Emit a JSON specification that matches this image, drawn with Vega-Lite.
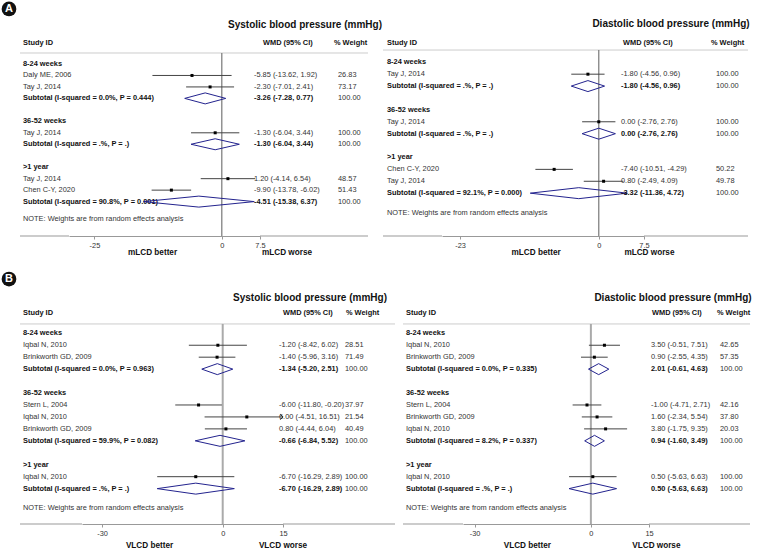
{
"$schema": "https://vega.github.io/schema/vega-lite/v6.json",
"background": "white",
"padding": {"left": 1, "top": 0, "right": 0, "bottom": 0},
"datasets": {
 "sbpA": [
  {"row": 1, "label": "8-24 weeks", "kind": "group"},
  {"row": 2, "label": "Daly ME, 2006", "kind": "study", "est": -5.85, "lo": -13.62, "hi": 1.92, "w": 26.83},
  {"row": 3, "label": "Tay J, 2014", "kind": "study", "est": -2.30, "lo": -7.01, "hi": 2.41, "w": 73.17},
  {"row": 4, "label": "Subtotal  (I-squared = 0.0%, P = 0.444)", "kind": "subtotal", "est": -3.26, "lo": -7.28, "hi": 0.77, "w": 100},
  {"row": 6, "label": "36-52 weeks", "kind": "group"},
  {"row": 7, "label": "Tay J, 2014", "kind": "study", "est": -1.30, "lo": -6.04, "hi": 3.44, "w": 100},
  {"row": 8, "label": "Subtotal  (I-squared = .%, P = .)", "kind": "subtotal", "est": -1.30, "lo": -6.04, "hi": 3.44, "w": 100},
  {"row": 10, "label": ">1 year", "kind": "group"},
  {"row": 11, "label": "Tay J, 2014", "kind": "study", "est": 1.20, "lo": -4.14, "hi": 6.54, "w": 48.57},
  {"row": 12, "label": "Chen C-Y, 2020", "kind": "study", "est": -9.90, "lo": -13.78, "hi": -6.02, "w": 51.43},
  {"row": 13, "label": "Subtotal  (I-squared = 90.8%, P = 0.001)", "kind": "subtotal", "est": -4.51, "lo": -15.38, "hi": 6.37, "w": 100}
 ],
 "dbpA": [
  {"row": 1, "label": "8-24 weeks", "kind": "group"},
  {"row": 2, "label": "Tay J, 2014", "kind": "study", "est": -1.80, "lo": -4.56, "hi": 0.96, "w": 100},
  {"row": 3, "label": "Subtotal  (I-squared = .%, P = .)", "kind": "subtotal", "est": -1.80, "lo": -4.56, "hi": 0.96, "w": 100},
  {"row": 5, "label": "36-52 weeks", "kind": "group"},
  {"row": 6, "label": "Tay J, 2014", "kind": "study", "est": 0.00, "lo": -2.76, "hi": 2.76, "w": 100},
  {"row": 7, "label": "Subtotal  (I-squared = .%, P = .)", "kind": "subtotal", "est": 0.00, "lo": -2.76, "hi": 2.76, "w": 100},
  {"row": 9, "label": ">1 year", "kind": "group"},
  {"row": 10, "label": "Chen C-Y, 2020", "kind": "study", "est": -7.40, "lo": -10.51, "hi": -4.29, "w": 50.22},
  {"row": 11, "label": "Tay J, 2014", "kind": "study", "est": 0.80, "lo": -2.49, "hi": 4.09, "w": 49.78},
  {"row": 12, "label": "Subtotal  (I-squared = 92.1%, P = 0.000)", "kind": "subtotal", "est": -3.32, "lo": -11.36, "hi": 4.72, "w": 100}
 ],
 "sbpB": [
  {"row": 1, "label": "8-24 weeks", "kind": "group"},
  {"row": 2, "label": "Iqbal N, 2010", "kind": "study", "est": -1.20, "lo": -8.42, "hi": 6.02, "w": 28.51},
  {"row": 3, "label": "Brinkworth GD, 2009", "kind": "study", "est": -1.40, "lo": -5.96, "hi": 3.16, "w": 71.49},
  {"row": 4, "label": "Subtotal  (I-squared = 0.0%, P = 0.963)", "kind": "subtotal", "est": -1.34, "lo": -5.20, "hi": 2.51, "w": 100},
  {"row": 6, "label": "36-52 weeks", "kind": "group"},
  {"row": 7, "label": "Stern L, 2004", "kind": "study", "est": -6.00, "lo": -11.80, "hi": -0.20, "w": 37.97},
  {"row": 8, "label": "Iqbal N, 2010", "kind": "study", "est": 6.00, "lo": -4.51, "hi": 16.51, "w": 21.54},
  {"row": 9, "label": "Brinkworth GD, 2009", "kind": "study", "est": 0.80, "lo": -4.44, "hi": 6.04, "w": 40.49},
  {"row": 10, "label": "Subtotal  (I-squared = 59.9%, P = 0.082)", "kind": "subtotal", "est": -0.66, "lo": -6.84, "hi": 5.52, "w": 100},
  {"row": 12, "label": ">1 year", "kind": "group"},
  {"row": 13, "label": "Iqbal N, 2010", "kind": "study", "est": -6.70, "lo": -16.29, "hi": 2.89, "w": 100},
  {"row": 14, "label": "Subtotal  (I-squared = .%, P = .)", "kind": "subtotal", "est": -6.70, "lo": -16.29, "hi": 2.89, "w": 100}
 ],
 "dbpB": [
  {"row": 1, "label": "8-24 weeks", "kind": "group"},
  {"row": 2, "label": "Iqbal N, 2010", "kind": "study", "est": 3.50, "lo": -0.51, "hi": 7.51, "w": 42.65},
  {"row": 3, "label": "Brinkworth GD, 2009", "kind": "study", "est": 0.90, "lo": -2.55, "hi": 4.35, "w": 57.35},
  {"row": 4, "label": "Subtotal  (I-squared = 0.0%, P = 0.335)", "kind": "subtotal", "est": 2.01, "lo": -0.61, "hi": 4.63, "w": 100},
  {"row": 6, "label": "36-52 weeks", "kind": "group"},
  {"row": 7, "label": "Stern L, 2004", "kind": "study", "est": -1.00, "lo": -4.71, "hi": 2.71, "w": 42.16},
  {"row": 8, "label": "Brinkworth GD, 2009", "kind": "study", "est": 1.60, "lo": -2.34, "hi": 5.54, "w": 37.80},
  {"row": 9, "label": "Iqbal N, 2010", "kind": "study", "est": 3.80, "lo": -1.75, "hi": 9.35, "w": 20.03},
  {"row": 10, "label": "Subtotal  (I-squared = 8.2%, P = 0.337)", "kind": "subtotal", "est": 0.94, "lo": -1.60, "hi": 3.49, "w": 100},
  {"row": 12, "label": ">1 year", "kind": "group"},
  {"row": 13, "label": "Iqbal N, 2010", "kind": "study", "est": 0.50, "lo": -5.63, "hi": 6.63, "w": 100},
  {"row": 14, "label": "Subtotal  (I-squared = .%, P = .)", "kind": "subtotal", "est": 0.50, "lo": -5.63, "hi": 6.63, "w": 100}
 ]
},
"vconcat": [
{"hconcat": [
 {"width": 49, "height": 236, "data": {"name": "sbpA"}, "layer": [
  {"transform": [{"filter": "datum.kind == 'study'"}], "mark": {"type": "text", "align": "left", "dx": 3}, "encoding": {"x": {"datum": 0, "type": "quantitative", "scale": {"domain": [0, 1]}, "axis": null}, "y": {"field": "row", "type": "quantitative", "scale": {"domain": [-4.581, 16], "reverse": true, "nice": false, "zero": false}, "axis": null}, "text": {"field": "label"}}},
  {"transform": [{"filter": "datum.kind != 'study'"}], "mark": {"type": "text", "align": "left", "dx": 3, "fontWeight": "bold", "color": "#111"}, "encoding": {"x": {"datum": 0, "type": "quantitative", "axis": null}, "y": {"field": "row", "type": "quantitative", "axis": null}, "text": {"field": "label"}}},
  {"data": {"values": [{"t": "Study ID"}]}, "mark": {"type": "text", "align": "left", "dx": 3, "fontWeight": "bold", "color": "#111"}, "encoding": {"x": {"datum": 0, "type": "quantitative", "axis": null}, "y": {"datum": -0.83, "type": "quantitative", "axis": null}, "text": {"field": "t"}}},
  {"data": {"values": [{"t": "NOTE: Weights are from random effects analysis"}]}, "mark": {"type": "text", "align": "left", "dx": 3}, "encoding": {"x": {"datum": 0, "type": "quantitative", "axis": null}, "y": {"datum": 14.52, "type": "quantitative", "axis": null}, "text": {"field": "t"}}},
  {"data": {"values": [{}]}, "mark": {"type": "rule", "color": "#cccccc"}, "encoding": {"y": {"datum": 0.04, "type": "quantitative", "axis": null}}},
  {"data": {"values": [{}]}, "mark": {"type": "rule", "color": "#999999"}, "encoding": {"y": {"datum": 16, "type": "quantitative", "axis": null}}},
  {"data": {"values": [{"t": "A"}]}, "mark": {"type": "point", "shape": "circle", "filled": true, "color": "#111", "opacity": 1, "size": 216, "xOffset": -11}, "encoding": {"x": {"datum": 0, "type": "quantitative", "axis": null}, "y": {"datum": -3.8, "type": "quantitative", "axis": null}}},
  {"data": {"values": [{"t": "A"}]}, "mark": {"type": "text", "align": "center", "dx": -11, "fontWeight": "bold", "fontSize": 11, "color": "#ffffff"}, "encoding": {"x": {"datum": 0, "type": "quantitative", "axis": null}, "y": {"datum": -3.8, "type": "quantitative", "axis": null}, "text": {"field": "t"}}}
 ]},
 {"width": 191, "height": 236, "data": {"name": "sbpA"}, "layer": [
  {"data": {"values": [{}]}, "mark": {"type": "rule", "color": "#cccccc"}, "encoding": {"y": {"datum": 0.04, "type": "quantitative", "scale": {"domain": [-4.581, 16], "reverse": true, "nice": false, "zero": false}, "axis": null}}},
  {"data": {"values": [{}]}, "mark": {"type": "rule", "color": "#777777", "strokeWidth": 1.2}, "encoding": {"x": {"datum": 0, "type": "quantitative", "scale": {"domain": [-30, 7.5], "nice": false, "zero": false}, "axis": {"values": [-25, 0, 7.5], "labelExpr": "'' + datum.value", "title": null, "grid": false, "domainColor": "#999999", "tickColor": "#999999", "tickSize": 3, "labelFontSize": 7.4, "labelColor": "#333333", "labelPadding": 2, "labelFlush": false, "labelOverlap": false}}, "y": {"datum": 0.04, "type": "quantitative", "axis": null}, "y2": {"datum": 16}}},
  {"transform": [{"filter": "datum.kind == 'study'"}], "mark": {"type": "rule", "color": "#444444"}, "encoding": {"x": {"field": "lo", "type": "quantitative"}, "x2": {"field": "hi"}, "y": {"field": "row", "type": "quantitative", "axis": null}}},
  {"transform": [{"filter": "datum.kind == 'study'"}], "mark": {"type": "point", "shape": "square", "filled": true, "color": "#000000", "opacity": 1, "size": 9}, "encoding": {"x": {"field": "est", "type": "quantitative"}, "y": {"field": "row", "type": "quantitative", "axis": null}}},
  {"transform": [{"filter": "datum.kind == 'subtotal'"}], "mark": {"type": "rule", "color": "#23238e", "y2Offset": -5.5}, "encoding": {"x": {"field": "lo", "type": "quantitative"}, "x2": {"field": "est"}, "y": {"field": "row", "type": "quantitative", "axis": null}, "y2": {"field": "row"}}},
  {"transform": [{"filter": "datum.kind == 'subtotal'"}], "mark": {"type": "rule", "color": "#23238e", "yOffset": -5.5}, "encoding": {"x": {"field": "est", "type": "quantitative"}, "x2": {"field": "hi"}, "y": {"field": "row", "type": "quantitative", "axis": null}, "y2": {"field": "row"}}},
  {"transform": [{"filter": "datum.kind == 'subtotal'"}], "mark": {"type": "rule", "color": "#23238e", "y2Offset": 5.5}, "encoding": {"x": {"field": "hi", "type": "quantitative"}, "x2": {"field": "est"}, "y": {"field": "row", "type": "quantitative", "axis": null}, "y2": {"field": "row"}}},
  {"transform": [{"filter": "datum.kind == 'subtotal'"}], "mark": {"type": "rule", "color": "#23238e", "yOffset": 5.5}, "encoding": {"x": {"field": "est", "type": "quantitative"}, "x2": {"field": "lo"}, "y": {"field": "row", "type": "quantitative", "axis": null}, "y2": {"field": "row"}}},
  {"data": {"values": [{"t": "mLCD better"}]}, "mark": {"type": "text", "align": "center", "fontWeight": "bold", "fontSize": 8.2, "color": "#111"}, "encoding": {"x": {"datum": -13.6, "type": "quantitative"}, "y": {"datum": 17.48, "type": "quantitative", "axis": null}, "text": {"field": "t"}}},
  {"data": {"values": [{"t": "mLCD worse"}]}, "mark": {"type": "text", "align": "center", "fontWeight": "bold", "fontSize": 8.2, "color": "#111"}, "encoding": {"x": {"datum": 12.8, "type": "quantitative"}, "y": {"datum": 17.48, "type": "quantitative", "axis": null}, "text": {"field": "t"}}}
 ]},
 {"width": 74, "height": 236, "data": {"name": "sbpA"}, "layer": [
  {"transform": [{"filter": "datum.kind == 'study'"}, {"calculate": "replace(format(datum.est, '.2f'), '−', '-') + ' (' + replace(format(datum.lo, '.2f'), '−', '-') + ', ' + replace(format(datum.hi, '.2f'), '−', '-') + ')'", "as": "ci"}], "mark": {"type": "text", "align": "left", "dx": -6}, "encoding": {"x": {"datum": 0, "type": "quantitative", "scale": {"domain": [0, 1]}, "axis": null}, "y": {"field": "row", "type": "quantitative", "scale": {"domain": [-4.581, 16], "reverse": true, "nice": false, "zero": false}, "axis": null}, "text": {"field": "ci"}}},
  {"transform": [{"filter": "datum.kind == 'subtotal'"}, {"calculate": "replace(format(datum.est, '.2f'), '−', '-') + ' (' + replace(format(datum.lo, '.2f'), '−', '-') + ', ' + replace(format(datum.hi, '.2f'), '−', '-') + ')'", "as": "ci"}], "mark": {"type": "text", "align": "left", "dx": -6, "fontWeight": "bold", "color": "#111"}, "encoding": {"x": {"datum": 0, "type": "quantitative", "axis": null}, "y": {"field": "row", "type": "quantitative", "axis": null}, "text": {"field": "ci"}}},
  {"data": {"values": [{"t": "WMD (95% CI)"}]}, "mark": {"type": "text", "align": "left", "dx": 3, "fontWeight": "bold", "color": "#111"}, "encoding": {"x": {"datum": 0, "type": "quantitative", "axis": null}, "y": {"datum": -0.83, "type": "quantitative", "axis": null}, "text": {"field": "t"}}},
  {"data": {"values": [{"t": "Systolic blood pressure (mmHg)"}]}, "mark": {"type": "text", "align": "center", "dx": 45, "fontWeight": "bold", "fontSize": 10, "color": "#111"}, "encoding": {"x": {"datum": 0, "type": "quantitative", "axis": null}, "y": {"datum": -2.4, "type": "quantitative", "axis": null}, "text": {"field": "t"}}},
  {"data": {"values": [{}]}, "mark": {"type": "rule", "color": "#cccccc"}, "encoding": {"y": {"datum": 0.04, "type": "quantitative", "axis": null}}},
  {"data": {"values": [{}]}, "mark": {"type": "rule", "color": "#999999"}, "encoding": {"y": {"datum": 16, "type": "quantitative", "axis": null}}}
 ]},
 {"width": 34, "height": 236, "data": {"name": "sbpA"}, "layer": [
  {"transform": [{"filter": "datum.kind != 'group'"}, {"calculate": "format(datum.w, '.2f')", "as": "wt"}], "mark": {"type": "text", "align": "left", "dx": 4}, "encoding": {"x": {"datum": 0, "type": "quantitative", "scale": {"domain": [0, 1]}, "axis": null}, "y": {"field": "row", "type": "quantitative", "scale": {"domain": [-4.581, 16], "reverse": true, "nice": false, "zero": false}, "axis": null}, "text": {"field": "wt"}}},
  {"data": {"values": [{"t": "% Weight"}]}, "mark": {"type": "text", "align": "left", "dx": 0, "fontWeight": "bold", "color": "#111"}, "encoding": {"x": {"datum": 0, "type": "quantitative", "axis": null}, "y": {"datum": -0.83, "type": "quantitative", "axis": null}, "text": {"field": "t"}}},
  {"data": {"values": [{}]}, "mark": {"type": "rule", "color": "#cccccc"}, "encoding": {"y": {"datum": 0.04, "type": "quantitative", "axis": null}}},
  {"data": {"values": [{}]}, "mark": {"type": "rule", "color": "#999999"}, "encoding": {"y": {"datum": 16, "type": "quantitative", "axis": null}}}
 ]},
 {"width": 15, "height": 236, "data": {"values": [{}]}, "mark": {"type": "text"}, "encoding": {"text": {"value": ""}}},
 {"width": 59, "height": 236, "data": {"name": "dbpA"}, "layer": [
  {"transform": [{"filter": "datum.kind == 'study'"}], "mark": {"type": "text", "align": "left", "dx": 4}, "encoding": {"x": {"datum": 0, "type": "quantitative", "scale": {"domain": [0, 1]}, "axis": null}, "y": {"field": "row", "type": "quantitative", "scale": {"domain": [-4.235, 15.6], "reverse": true, "nice": false, "zero": false}, "axis": null}, "text": {"field": "label"}}},
  {"transform": [{"filter": "datum.kind != 'study'"}], "mark": {"type": "text", "align": "left", "dx": 4, "fontWeight": "bold", "color": "#111"}, "encoding": {"x": {"datum": 0, "type": "quantitative", "axis": null}, "y": {"field": "row", "type": "quantitative", "axis": null}, "text": {"field": "label"}}},
  {"data": {"values": [{"t": "Study ID"}]}, "mark": {"type": "text", "align": "left", "dx": 4, "fontWeight": "bold", "color": "#111"}, "encoding": {"x": {"datum": 0, "type": "quantitative", "axis": null}, "y": {"datum": -0.65, "type": "quantitative", "axis": null}, "text": {"field": "t"}}},
  {"data": {"values": [{"t": "NOTE: Weights are from random effects analysis"}]}, "mark": {"type": "text", "align": "left", "dx": 4}, "encoding": {"x": {"datum": 0, "type": "quantitative", "axis": null}, "y": {"datum": 13.69, "type": "quantitative", "axis": null}, "text": {"field": "t"}}},
  {"data": {"values": [{}]}, "mark": {"type": "rule", "color": "#cccccc"}, "encoding": {"y": {"datum": -0.03, "type": "quantitative", "axis": null}}},
  {"data": {"values": [{}]}, "mark": {"type": "rule", "color": "#999999"}, "encoding": {"y": {"datum": 15.6, "type": "quantitative", "axis": null}}}
 ]},
 {"width": 202, "height": 236, "data": {"name": "dbpA"}, "layer": [
  {"data": {"values": [{}]}, "mark": {"type": "rule", "color": "#cccccc"}, "encoding": {"y": {"datum": -0.03, "type": "quantitative", "scale": {"domain": [-4.235, 15.6], "reverse": true, "nice": false, "zero": false}, "axis": null}}},
  {"data": {"values": [{}]}, "mark": {"type": "rule", "color": "#777777", "strokeWidth": 1.2}, "encoding": {"x": {"datum": 0, "type": "quantitative", "scale": {"domain": [-26, 7.5], "nice": false, "zero": false}, "axis": {"values": [-23, 0, 7.5], "labelExpr": "'' + datum.value", "title": null, "grid": false, "domainColor": "#999999", "tickColor": "#999999", "tickSize": 3, "labelFontSize": 7.4, "labelColor": "#333333", "labelPadding": 2, "labelFlush": false, "labelOverlap": false}}, "y": {"datum": -0.03, "type": "quantitative", "axis": null}, "y2": {"datum": 15.6}}},
  {"transform": [{"filter": "datum.kind == 'study'"}], "mark": {"type": "rule", "color": "#444444"}, "encoding": {"x": {"field": "lo", "type": "quantitative"}, "x2": {"field": "hi"}, "y": {"field": "row", "type": "quantitative", "axis": null}}},
  {"transform": [{"filter": "datum.kind == 'study'"}], "mark": {"type": "point", "shape": "square", "filled": true, "color": "#000000", "opacity": 1, "size": 9}, "encoding": {"x": {"field": "est", "type": "quantitative"}, "y": {"field": "row", "type": "quantitative", "axis": null}}},
  {"transform": [{"filter": "datum.kind == 'subtotal'"}], "mark": {"type": "rule", "color": "#23238e", "y2Offset": -5.5}, "encoding": {"x": {"field": "lo", "type": "quantitative"}, "x2": {"field": "est"}, "y": {"field": "row", "type": "quantitative", "axis": null}, "y2": {"field": "row"}}},
  {"transform": [{"filter": "datum.kind == 'subtotal'"}], "mark": {"type": "rule", "color": "#23238e", "yOffset": -5.5}, "encoding": {"x": {"field": "est", "type": "quantitative"}, "x2": {"field": "hi"}, "y": {"field": "row", "type": "quantitative", "axis": null}, "y2": {"field": "row"}}},
  {"transform": [{"filter": "datum.kind == 'subtotal'"}], "mark": {"type": "rule", "color": "#23238e", "y2Offset": 5.5}, "encoding": {"x": {"field": "hi", "type": "quantitative"}, "x2": {"field": "est"}, "y": {"field": "row", "type": "quantitative", "axis": null}, "y2": {"field": "row"}}},
  {"transform": [{"filter": "datum.kind == 'subtotal'"}], "mark": {"type": "rule", "color": "#23238e", "yOffset": 5.5}, "encoding": {"x": {"field": "est", "type": "quantitative"}, "x2": {"field": "lo"}, "y": {"field": "row", "type": "quantitative", "axis": null}, "y2": {"field": "row"}}},
  {"data": {"values": [{"t": "mLCD better"}]}, "mark": {"type": "text", "align": "center", "fontWeight": "bold", "fontSize": 8.2, "color": "#111"}, "encoding": {"x": {"datum": -10.4, "type": "quantitative"}, "y": {"datum": 17.03, "type": "quantitative", "axis": null}, "text": {"field": "t"}}},
  {"data": {"values": [{"t": "mLCD worse"}]}, "mark": {"type": "text", "align": "center", "fontWeight": "bold", "fontSize": 8.2, "color": "#111"}, "encoding": {"x": {"datum": 8.4, "type": "quantitative"}, "y": {"datum": 17.03, "type": "quantitative", "axis": null}, "text": {"field": "t"}}}
 ]},
 {"width": 67, "height": 236, "data": {"name": "dbpA"}, "layer": [
  {"transform": [{"filter": "datum.kind == 'study'"}, {"calculate": "replace(format(datum.est, '.2f'), '−', '-') + ' (' + replace(format(datum.lo, '.2f'), '−', '-') + ', ' + replace(format(datum.hi, '.2f'), '−', '-') + ')'", "as": "ci"}], "mark": {"type": "text", "align": "left", "dx": -23}, "encoding": {"x": {"datum": 0, "type": "quantitative", "scale": {"domain": [0, 1]}, "axis": null}, "y": {"field": "row", "type": "quantitative", "scale": {"domain": [-4.235, 15.6], "reverse": true, "nice": false, "zero": false}, "axis": null}, "text": {"field": "ci"}}},
  {"transform": [{"filter": "datum.kind == 'subtotal'"}, {"calculate": "replace(format(datum.est, '.2f'), '−', '-') + ' (' + replace(format(datum.lo, '.2f'), '−', '-') + ', ' + replace(format(datum.hi, '.2f'), '−', '-') + ')'", "as": "ci"}], "mark": {"type": "text", "align": "left", "dx": -23, "fontWeight": "bold", "color": "#111"}, "encoding": {"x": {"datum": 0, "type": "quantitative", "axis": null}, "y": {"field": "row", "type": "quantitative", "axis": null}, "text": {"field": "ci"}}},
  {"data": {"values": [{"t": "WMD (95% CI)"}]}, "mark": {"type": "text", "align": "left", "dx": -21, "fontWeight": "bold", "color": "#111"}, "encoding": {"x": {"datum": 0, "type": "quantitative", "axis": null}, "y": {"datum": -0.65, "type": "quantitative", "axis": null}, "text": {"field": "t"}}},
  {"data": {"values": [{"t": "Diastolic blood pressure (mmHg)"}]}, "mark": {"type": "text", "align": "center", "dx": 27, "fontWeight": "bold", "fontSize": 10, "color": "#111"}, "encoding": {"x": {"datum": 0, "type": "quantitative", "axis": null}, "y": {"datum": -2.22, "type": "quantitative", "axis": null}, "text": {"field": "t"}}},
  {"data": {"values": [{}]}, "mark": {"type": "rule", "color": "#cccccc"}, "encoding": {"y": {"datum": -0.03, "type": "quantitative", "axis": null}}},
  {"data": {"values": [{}]}, "mark": {"type": "rule", "color": "#999999"}, "encoding": {"y": {"datum": 15.6, "type": "quantitative", "axis": null}}}
 ]},
 {"width": 37, "height": 236, "data": {"name": "dbpA"}, "layer": [
  {"transform": [{"filter": "datum.kind != 'group'"}, {"calculate": "format(datum.w, '.2f')", "as": "wt"}], "mark": {"type": "text", "align": "left", "dx": 5}, "encoding": {"x": {"datum": 0, "type": "quantitative", "scale": {"domain": [0, 1]}, "axis": null}, "y": {"field": "row", "type": "quantitative", "scale": {"domain": [-4.235, 15.6], "reverse": true, "nice": false, "zero": false}, "axis": null}, "text": {"field": "wt"}}},
  {"data": {"values": [{"t": "% Weight"}]}, "mark": {"type": "text", "align": "left", "dx": 0, "fontWeight": "bold", "color": "#111"}, "encoding": {"x": {"datum": 0, "type": "quantitative", "axis": null}, "y": {"datum": -0.65, "type": "quantitative", "axis": null}, "text": {"field": "t"}}},
  {"data": {"values": [{}]}, "mark": {"type": "rule", "color": "#cccccc"}, "encoding": {"y": {"datum": -0.03, "type": "quantitative", "axis": null}}},
  {"data": {"values": [{}]}, "mark": {"type": "rule", "color": "#999999"}, "encoding": {"y": {"datum": 15.6, "type": "quantitative", "axis": null}}}
 ]}
], "spacing": 0, "bounds": "flush", "resolve": {"scale": {"x": "independent", "y": "independent"}}},
{"hconcat": [
 {"width": 62, "height": 255, "data": {"name": "sbpB"}, "layer": [
  {"transform": [{"filter": "datum.kind == 'study'"}], "mark": {"type": "text", "align": "left", "dx": 3}, "encoding": {"x": {"datum": 0, "type": "quantitative", "scale": {"domain": [0, 1]}, "axis": null}, "y": {"field": "row", "type": "quantitative", "scale": {"domain": [-4.38, 16.96], "reverse": true, "nice": false, "zero": false}, "axis": null}, "text": {"field": "label"}}},
  {"transform": [{"filter": "datum.kind != 'study'"}], "mark": {"type": "text", "align": "left", "dx": 3, "fontWeight": "bold", "color": "#111"}, "encoding": {"x": {"datum": 0, "type": "quantitative", "axis": null}, "y": {"field": "row", "type": "quantitative", "axis": null}, "text": {"field": "label"}}},
  {"data": {"values": [{"t": "Study ID"}]}, "mark": {"type": "text", "align": "left", "dx": 3, "fontWeight": "bold", "color": "#111"}, "encoding": {"x": {"datum": 0, "type": "quantitative", "axis": null}, "y": {"datum": -0.72, "type": "quantitative", "axis": null}, "text": {"field": "t"}}},
  {"data": {"values": [{"t": "NOTE: Weights are from random effects analysis"}]}, "mark": {"type": "text", "align": "left", "dx": 3}, "encoding": {"x": {"datum": 0, "type": "quantitative", "axis": null}, "y": {"datum": 15.6, "type": "quantitative", "axis": null}, "text": {"field": "t"}}},
  {"data": {"values": [{}]}, "mark": {"type": "rule", "color": "#cccccc"}, "encoding": {"y": {"datum": 0.22, "type": "quantitative", "axis": null}}},
  {"data": {"values": [{}]}, "mark": {"type": "rule", "color": "#999999"}, "encoding": {"y": {"datum": 16.96, "type": "quantitative", "axis": null}}},
  {"data": {"values": [{"t": "B"}]}, "mark": {"type": "point", "shape": "circle", "filled": true, "color": "#111", "opacity": 1, "size": 216, "xOffset": -11}, "encoding": {"x": {"datum": 0, "type": "quantitative", "axis": null}, "y": {"datum": -3.54, "type": "quantitative", "axis": null}}},
  {"data": {"values": [{"t": "B"}]}, "mark": {"type": "text", "align": "center", "dx": -11, "fontWeight": "bold", "fontSize": 11, "color": "#ffffff"}, "encoding": {"x": {"datum": 0, "type": "quantitative", "axis": null}, "y": {"datum": -3.54, "type": "quantitative", "axis": null}, "text": {"field": "t"}}}
 ]},
 {"width": 201, "height": 255, "data": {"name": "sbpB"}, "layer": [
  {"data": {"values": [{}]}, "mark": {"type": "rule", "color": "#cccccc"}, "encoding": {"y": {"datum": 0.22, "type": "quantitative", "scale": {"domain": [-4.38, 16.96], "reverse": true, "nice": false, "zero": false}, "axis": null}}},
  {"data": {"values": [{}]}, "mark": {"type": "rule", "color": "#aaaaaa", "strokeWidth": 2}, "encoding": {"x": {"datum": 0, "type": "quantitative", "scale": {"domain": [-35, 15], "nice": false, "zero": false, "clamp": true}, "axis": {"values": [-30, 0, 15], "labelExpr": "'' + datum.value", "title": null, "grid": false, "domainColor": "#999999", "tickColor": "#999999", "tickSize": 3, "labelFontSize": 7.4, "labelColor": "#333333", "labelPadding": 2, "labelFlush": false, "labelOverlap": false}}, "y": {"datum": 0.22, "type": "quantitative", "axis": null}, "y2": {"datum": 16.96}}},
  {"transform": [{"filter": "datum.kind == 'study'"}], "mark": {"type": "rule", "color": "#444444"}, "encoding": {"x": {"field": "lo", "type": "quantitative"}, "x2": {"field": "hi"}, "y": {"field": "row", "type": "quantitative", "axis": null}}},
  {"transform": [{"filter": "datum.kind == 'study'"}], "mark": {"type": "point", "shape": "square", "filled": true, "color": "#000000", "opacity": 1, "size": 9}, "encoding": {"x": {"field": "est", "type": "quantitative"}, "y": {"field": "row", "type": "quantitative", "axis": null}}},
  {"transform": [{"filter": "datum.kind == 'study' && datum.hi > 15"}], "mark": {"type": "point", "shape": "M-1,-1L0,0L-1,1", "filled": false, "color": "#222222", "opacity": 1, "size": 30, "strokeWidth": 1}, "encoding": {"x": {"field": "hi", "type": "quantitative"}, "y": {"field": "row", "type": "quantitative", "axis": null}}},
  {"transform": [{"filter": "datum.kind == 'subtotal'"}], "mark": {"type": "rule", "color": "#23238e", "y2Offset": -5.5}, "encoding": {"x": {"field": "lo", "type": "quantitative"}, "x2": {"field": "est"}, "y": {"field": "row", "type": "quantitative", "axis": null}, "y2": {"field": "row"}}},
  {"transform": [{"filter": "datum.kind == 'subtotal'"}], "mark": {"type": "rule", "color": "#23238e", "yOffset": -5.5}, "encoding": {"x": {"field": "est", "type": "quantitative"}, "x2": {"field": "hi"}, "y": {"field": "row", "type": "quantitative", "axis": null}, "y2": {"field": "row"}}},
  {"transform": [{"filter": "datum.kind == 'subtotal'"}], "mark": {"type": "rule", "color": "#23238e", "y2Offset": 5.5}, "encoding": {"x": {"field": "hi", "type": "quantitative"}, "x2": {"field": "est"}, "y": {"field": "row", "type": "quantitative", "axis": null}, "y2": {"field": "row"}}},
  {"transform": [{"filter": "datum.kind == 'subtotal'"}], "mark": {"type": "rule", "color": "#23238e", "yOffset": 5.5}, "encoding": {"x": {"field": "est", "type": "quantitative"}, "x2": {"field": "lo"}, "y": {"field": "row", "type": "quantitative", "axis": null}, "y2": {"field": "row"}}},
  {"data": {"values": [{"t": "VLCD better"}]}, "mark": {"type": "text", "align": "center", "fontWeight": "bold", "fontSize": 8.2, "color": "#111"}, "encoding": {"x": {"datum": -18.2, "type": "quantitative"}, "y": {"datum": 18.8, "type": "quantitative", "axis": null}, "text": {"field": "t"}}},
  {"data": {"values": [{"t": "VLCD worse"}]}, "mark": {"type": "text", "align": "center", "fontWeight": "bold", "fontSize": 8.2, "color": "#111"}, "encoding": {"x": {"datum": 15, "type": "quantitative"}, "y": {"datum": 18.8, "type": "quantitative", "axis": null}, "text": {"field": "t"}}}
 ]},
 {"width": 60, "height": 255, "data": {"name": "sbpB"}, "layer": [
  {"transform": [{"filter": "datum.kind == 'study'"}, {"calculate": "replace(format(datum.est, '.2f'), '−', '-') + ' (' + replace(format(datum.lo, '.2f'), '−', '-') + ', ' + replace(format(datum.hi, '.2f'), '−', '-') + ')'", "as": "ci"}], "mark": {"type": "text", "align": "left", "dx": -4}, "encoding": {"x": {"datum": 0, "type": "quantitative", "scale": {"domain": [0, 1]}, "axis": null}, "y": {"field": "row", "type": "quantitative", "scale": {"domain": [-4.38, 16.96], "reverse": true, "nice": false, "zero": false}, "axis": null}, "text": {"field": "ci"}}},
  {"transform": [{"filter": "datum.kind == 'subtotal'"}, {"calculate": "replace(format(datum.est, '.2f'), '−', '-') + ' (' + replace(format(datum.lo, '.2f'), '−', '-') + ', ' + replace(format(datum.hi, '.2f'), '−', '-') + ')'", "as": "ci"}], "mark": {"type": "text", "align": "left", "dx": -4, "fontWeight": "bold", "color": "#111"}, "encoding": {"x": {"datum": 0, "type": "quantitative", "axis": null}, "y": {"field": "row", "type": "quantitative", "axis": null}, "text": {"field": "ci"}}},
  {"data": {"values": [{"t": "WMD (95% CI)"}]}, "mark": {"type": "text", "align": "left", "dx": 0, "fontWeight": "bold", "color": "#111"}, "encoding": {"x": {"datum": 0, "type": "quantitative", "axis": null}, "y": {"datum": -0.72, "type": "quantitative", "axis": null}, "text": {"field": "t"}}},
  {"data": {"values": [{"t": "Systolic blood pressure (mmHg)"}]}, "mark": {"type": "text", "align": "center", "dx": 27, "fontWeight": "bold", "fontSize": 10, "color": "#111"}, "encoding": {"x": {"datum": 0, "type": "quantitative", "axis": null}, "y": {"datum": -1.98, "type": "quantitative", "axis": null}, "text": {"field": "t"}}},
  {"data": {"values": [{}]}, "mark": {"type": "rule", "color": "#cccccc"}, "encoding": {"y": {"datum": 0.22, "type": "quantitative", "axis": null}}},
  {"data": {"values": [{}]}, "mark": {"type": "rule", "color": "#999999"}, "encoding": {"y": {"datum": 16.96, "type": "quantitative", "axis": null}}}
 ]},
 {"width": 52, "height": 255, "data": {"name": "sbpB"}, "layer": [
  {"transform": [{"filter": "datum.kind != 'group'"}, {"calculate": "format(datum.w, '.2f')", "as": "wt"}], "mark": {"type": "text", "align": "left", "dx": 2}, "encoding": {"x": {"datum": 0, "type": "quantitative", "scale": {"domain": [0, 1]}, "axis": null}, "y": {"field": "row", "type": "quantitative", "scale": {"domain": [-4.38, 16.96], "reverse": true, "nice": false, "zero": false}, "axis": null}, "text": {"field": "wt"}}},
  {"data": {"values": [{"t": "% Weight"}]}, "mark": {"type": "text", "align": "left", "dx": 3, "fontWeight": "bold", "color": "#111"}, "encoding": {"x": {"datum": 0, "type": "quantitative", "axis": null}, "y": {"datum": -0.72, "type": "quantitative", "axis": null}, "text": {"field": "t"}}},
  {"data": {"values": [{}]}, "mark": {"type": "rule", "color": "#cccccc"}, "encoding": {"y": {"datum": 0.22, "type": "quantitative", "axis": null}}},
  {"data": {"values": [{}]}, "mark": {"type": "rule", "color": "#999999"}, "encoding": {"y": {"datum": 16.96, "type": "quantitative", "axis": null}}}
 ]},
 {"width": 8, "height": 255, "data": {"values": [{}]}, "mark": {"type": "text"}, "encoding": {"text": {"value": ""}}},
 {"width": 60, "height": 255, "data": {"name": "dbpB"}, "layer": [
  {"transform": [{"filter": "datum.kind == 'study'"}], "mark": {"type": "text", "align": "left", "dx": 3}, "encoding": {"x": {"datum": 0, "type": "quantitative", "scale": {"domain": [0, 1]}, "axis": null}, "y": {"field": "row", "type": "quantitative", "scale": {"domain": [-4.38, 16.96], "reverse": true, "nice": false, "zero": false}, "axis": null}, "text": {"field": "label"}}},
  {"transform": [{"filter": "datum.kind != 'study'"}], "mark": {"type": "text", "align": "left", "dx": 3, "fontWeight": "bold", "color": "#111"}, "encoding": {"x": {"datum": 0, "type": "quantitative", "axis": null}, "y": {"field": "row", "type": "quantitative", "axis": null}, "text": {"field": "label"}}},
  {"data": {"values": [{"t": "Study ID"}]}, "mark": {"type": "text", "align": "left", "dx": 3, "fontWeight": "bold", "color": "#111"}, "encoding": {"x": {"datum": 0, "type": "quantitative", "axis": null}, "y": {"datum": -0.72, "type": "quantitative", "axis": null}, "text": {"field": "t"}}},
  {"data": {"values": [{"t": "NOTE: Weights are from random effects analysis"}]}, "mark": {"type": "text", "align": "left", "dx": 3}, "encoding": {"x": {"datum": 0, "type": "quantitative", "axis": null}, "y": {"datum": 15.6, "type": "quantitative", "axis": null}, "text": {"field": "t"}}},
  {"data": {"values": [{}]}, "mark": {"type": "rule", "color": "#cccccc"}, "encoding": {"y": {"datum": 0.22, "type": "quantitative", "axis": null}}},
  {"data": {"values": [{}]}, "mark": {"type": "rule", "color": "#999999"}, "encoding": {"y": {"datum": 16.96, "type": "quantitative", "axis": null}}}
 ]},
 {"width": 186, "height": 255, "data": {"name": "dbpB"}, "layer": [
  {"data": {"values": [{}]}, "mark": {"type": "rule", "color": "#cccccc"}, "encoding": {"y": {"datum": 0.22, "type": "quantitative", "scale": {"domain": [-4.38, 16.96], "reverse": true, "nice": false, "zero": false}, "axis": null}}},
  {"data": {"values": [{}]}, "mark": {"type": "rule", "color": "#aaaaaa", "strokeWidth": 2}, "encoding": {"x": {"datum": 0, "type": "quantitative", "scale": {"domain": [-33, 15], "nice": false, "zero": false}, "axis": {"values": [-30, 0, 15], "labelExpr": "'' + datum.value", "title": null, "grid": false, "domainColor": "#999999", "tickColor": "#999999", "tickSize": 3, "labelFontSize": 7.4, "labelColor": "#333333", "labelPadding": 2, "labelFlush": false, "labelOverlap": false}}, "y": {"datum": 0.22, "type": "quantitative", "axis": null}, "y2": {"datum": 16.96}}},
  {"transform": [{"filter": "datum.kind == 'study'"}], "mark": {"type": "rule", "color": "#444444"}, "encoding": {"x": {"field": "lo", "type": "quantitative"}, "x2": {"field": "hi"}, "y": {"field": "row", "type": "quantitative", "axis": null}}},
  {"transform": [{"filter": "datum.kind == 'study'"}], "mark": {"type": "point", "shape": "square", "filled": true, "color": "#000000", "opacity": 1, "size": 9}, "encoding": {"x": {"field": "est", "type": "quantitative"}, "y": {"field": "row", "type": "quantitative", "axis": null}}},
  {"transform": [{"filter": "datum.kind == 'subtotal'"}], "mark": {"type": "rule", "color": "#23238e", "y2Offset": -5.5}, "encoding": {"x": {"field": "lo", "type": "quantitative"}, "x2": {"field": "est"}, "y": {"field": "row", "type": "quantitative", "axis": null}, "y2": {"field": "row"}}},
  {"transform": [{"filter": "datum.kind == 'subtotal'"}], "mark": {"type": "rule", "color": "#23238e", "yOffset": -5.5}, "encoding": {"x": {"field": "est", "type": "quantitative"}, "x2": {"field": "hi"}, "y": {"field": "row", "type": "quantitative", "axis": null}, "y2": {"field": "row"}}},
  {"transform": [{"filter": "datum.kind == 'subtotal'"}], "mark": {"type": "rule", "color": "#23238e", "y2Offset": 5.5}, "encoding": {"x": {"field": "hi", "type": "quantitative"}, "x2": {"field": "est"}, "y": {"field": "row", "type": "quantitative", "axis": null}, "y2": {"field": "row"}}},
  {"transform": [{"filter": "datum.kind == 'subtotal'"}], "mark": {"type": "rule", "color": "#23238e", "yOffset": 5.5}, "encoding": {"x": {"field": "est", "type": "quantitative"}, "x2": {"field": "lo"}, "y": {"field": "row", "type": "quantitative", "axis": null}, "y2": {"field": "row"}}},
  {"data": {"values": [{"t": "VLCD better"}]}, "mark": {"type": "text", "align": "center", "fontWeight": "bold", "fontSize": 8.2, "color": "#111"}, "encoding": {"x": {"datum": -16.4, "type": "quantitative"}, "y": {"datum": 18.8, "type": "quantitative", "axis": null}, "text": {"field": "t"}}},
  {"data": {"values": [{"t": "VLCD worse"}]}, "mark": {"type": "text", "align": "center", "fontWeight": "bold", "fontSize": 8.2, "color": "#111"}, "encoding": {"x": {"datum": 16.9, "type": "quantitative"}, "y": {"datum": 18.8, "type": "quantitative", "axis": null}, "text": {"field": "t"}}}
 ]},
 {"width": 68, "height": 255, "data": {"name": "dbpB"}, "layer": [
  {"transform": [{"filter": "datum.kind == 'study'"}, {"calculate": "replace(format(datum.est, '.2f'), '−', '-') + ' (' + replace(format(datum.lo, '.2f'), '−', '-') + ', ' + replace(format(datum.hi, '.2f'), '−', '-') + ')'", "as": "ci"}], "mark": {"type": "text", "align": "left", "dx": 2}, "encoding": {"x": {"datum": 0, "type": "quantitative", "scale": {"domain": [0, 1]}, "axis": null}, "y": {"field": "row", "type": "quantitative", "scale": {"domain": [-4.38, 16.96], "reverse": true, "nice": false, "zero": false}, "axis": null}, "text": {"field": "ci"}}},
  {"transform": [{"filter": "datum.kind == 'subtotal'"}, {"calculate": "replace(format(datum.est, '.2f'), '−', '-') + ' (' + replace(format(datum.lo, '.2f'), '−', '-') + ', ' + replace(format(datum.hi, '.2f'), '−', '-') + ')'", "as": "ci"}], "mark": {"type": "text", "align": "left", "dx": 2, "fontWeight": "bold", "color": "#111"}, "encoding": {"x": {"datum": 0, "type": "quantitative", "axis": null}, "y": {"field": "row", "type": "quantitative", "axis": null}, "text": {"field": "ci"}}},
  {"data": {"values": [{"t": "WMD (95% CI)"}]}, "mark": {"type": "text", "align": "left", "dx": 3, "fontWeight": "bold", "color": "#111"}, "encoding": {"x": {"datum": 0, "type": "quantitative", "axis": null}, "y": {"datum": -0.72, "type": "quantitative", "axis": null}, "text": {"field": "t"}}},
  {"data": {"values": [{"t": "Diastolic blood pressure (mmHg)"}]}, "mark": {"type": "text", "align": "center", "dx": 24, "fontWeight": "bold", "fontSize": 10, "color": "#111"}, "encoding": {"x": {"datum": 0, "type": "quantitative", "axis": null}, "y": {"datum": -1.98, "type": "quantitative", "axis": null}, "text": {"field": "t"}}},
  {"data": {"values": [{}]}, "mark": {"type": "rule", "color": "#cccccc"}, "encoding": {"y": {"datum": 0.22, "type": "quantitative", "axis": null}}},
  {"data": {"values": [{}]}, "mark": {"type": "rule", "color": "#999999"}, "encoding": {"y": {"datum": 16.96, "type": "quantitative", "axis": null}}}
 ]},
 {"width": 33, "height": 255, "data": {"name": "dbpB"}, "layer": [
  {"transform": [{"filter": "datum.kind != 'group'"}, {"calculate": "format(datum.w, '.2f')", "as": "wt"}], "mark": {"type": "text", "align": "left", "dx": 3}, "encoding": {"x": {"datum": 0, "type": "quantitative", "scale": {"domain": [0, 1]}, "axis": null}, "y": {"field": "row", "type": "quantitative", "scale": {"domain": [-4.38, 16.96], "reverse": true, "nice": false, "zero": false}, "axis": null}, "text": {"field": "wt"}}},
  {"data": {"values": [{"t": "% Weight"}]}, "mark": {"type": "text", "align": "left", "dx": 0, "fontWeight": "bold", "color": "#111"}, "encoding": {"x": {"datum": 0, "type": "quantitative", "axis": null}, "y": {"datum": -0.72, "type": "quantitative", "axis": null}, "text": {"field": "t"}}},
  {"data": {"values": [{}]}, "mark": {"type": "rule", "color": "#cccccc"}, "encoding": {"y": {"datum": 0.22, "type": "quantitative", "axis": null}}},
  {"data": {"values": [{}]}, "mark": {"type": "rule", "color": "#999999"}, "encoding": {"y": {"datum": 16.96, "type": "quantitative", "axis": null}}}
 ]}
], "spacing": 0, "bounds": "flush", "resolve": {"scale": {"x": "independent", "y": "independent"}}}
],
"spacing": 12,
"resolve": {"scale": {"x": "independent", "y": "independent"}},
"config": {
 "view": {"stroke": null},
 "text": {"font": "Liberation Sans", "fontSize": 7.4, "color": "#333333", "baseline": "middle"},
 "axis": {"labelFont": "Liberation Sans"}
}
}
